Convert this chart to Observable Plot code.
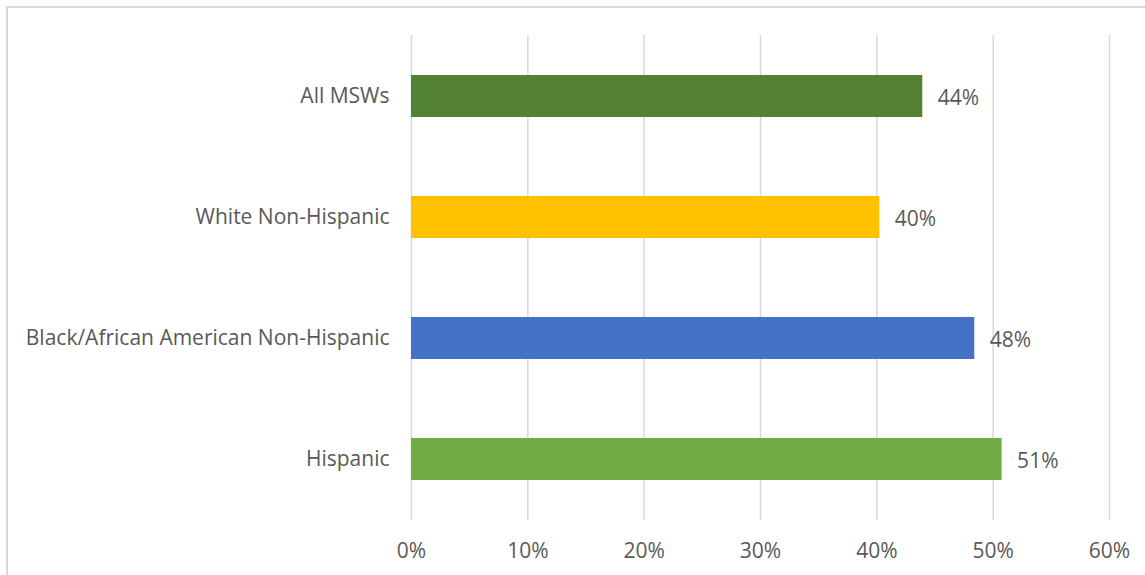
<!DOCTYPE html>
<html>
<head>
<meta charset="utf-8">
<script src="https://cdn.jsdelivr.net/npm/d3@7"></script>
<script src="https://cdn.jsdelivr.net/npm/@observablehq/plot@0.6"></script>
<style>
  html, body { margin: 0; padding: 0; background: #fff; }
  #wrap { position: relative; width: 1145px; height: 575px; overflow: hidden; }
  #border { position: absolute; left: 6px; top: 6px; width: 1200px; height: 700px; border: 2px solid #d9d9d9; box-sizing: border-box; }
  #chart { position: absolute; left: 0; top: 0; }
</style>
</head>
<body>
<div id="wrap"><div id="border"></div><div id="chart"></div></div>
<script>
const categories = ["All MSWs", "White Non-Hispanic", "Black/African American Non-Hispanic", "Hispanic"];
const values = [0.4395, 0.4026, 0.4842, 0.5077];
const colors = ["#548235", "#FFC000", "#4472C4", "#70AD47"];
const xTicks = [0, 0.1, 0.2, 0.3, 0.4, 0.5, 0.6];

const data = categories.map((c, i) => ({category: c, value: values[i], color: colors[i]}));
const fmt = d3.format(".0%");
const FS = 21;

const chart = Plot.plot({
  width: 1145,
  height: 575,
  marginLeft: 411,
  marginRight: 36,
  marginTop: 35,
  marginBottom: 55,
  style: {fontFamily: "'Open Sans', sans-serif", fontSize: FS + "px", color: "#595959", background: "transparent"},
  x: {domain: [0, 0.6], ticks: xTicks, tickFormat: fmt, label: null},
  y: {domain: categories, paddingInner: 0.65, paddingOuter: 0.325, label: null},
  marks: [
    Plot.gridX(xTicks, {stroke: "#d9d9d9", strokeOpacity: 1, strokeWidth: 1.5}),
    Plot.barX(data, {x: "value", y: "category", fill: "color"}),
    Plot.text(data, {x: "value", y: "category", text: d => fmt(d.value), textAnchor: "start", dx: 15, dy: 1.5, fill: "#595959", fontSize: FS}),
    Plot.axisX({ticks: xTicks, tickFormat: fmt, tickSize: 0, tickPadding: 23, fontSize: FS, fill: "#595959", label: null}),
    Plot.axisY({tickSize: 0, tickPadding: 22, fontSize: FS, fill: "#595959", label: null})
  ]
});
document.getElementById("chart").appendChild(chart);
</script>
</body>
</html>
